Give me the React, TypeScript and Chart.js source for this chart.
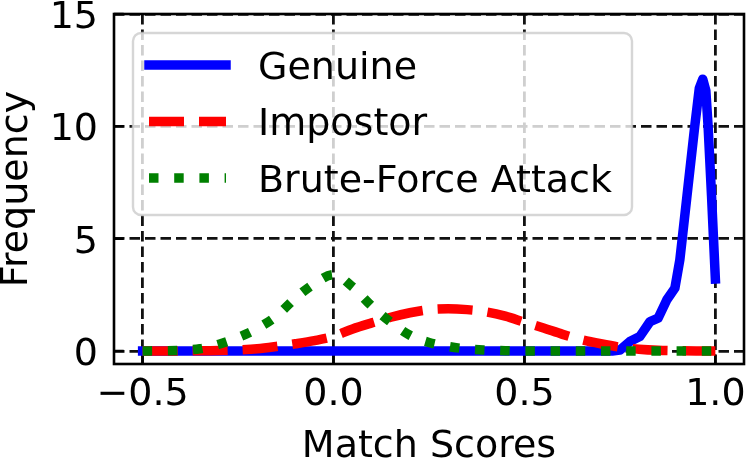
import React, { useEffect, useRef } from "react";
import { Chart, registerables } from "chart.js";

Chart.register(...registerables);

// ---- data ----
const seriesNames = ["Genuine", "Impostor", "Brute-Force Attack"];
const xTicks = [-0.5, 0, 0.5, 1.0];
const xTickLabels = ["\u22120.5", "0.0", "0.5", "1.0"];
const yTicks = [0, 5, 10, 15];
const yTickLabels = ["0", "5", "10", "15"];
const xTitle = "Match Scores";
const yTitle = "Frequency";

const genuineX = [-0.5, 0.73, 0.75, 0.776, 0.802, 0.829, 0.85, 0.873, 0.894, 0.907, 0.915, 0.925, 0.946, 0.958, 0.967, 0.975, 0.981, 0.99, 1.0];
const genuineY = [0, 0, 0.04, 0.42, 0.64, 1.31, 1.46, 2.28, 2.8, 4.06, 5.27, 6.8, 10.0, 11.7, 12.1, 11.6, 10.0, 6.9, 3.2];

const gridX = [-0.5, -0.45, -0.4, -0.35, -0.3, -0.25, -0.2, -0.15, -0.1, -0.05, 0, 0.05, 0.1, 0.15, 0.2, 0.25, 0.3, 0.35, 0.4, 0.45, 0.5, 0.55, 0.6, 0.65, 0.7, 0.75, 0.8, 0.85, 0.9, 0.95, 1.0];
const impostorY = [0, 0, 0, 0.01, 0.02, 0.05, 0.1, 0.2, 0.32, 0.46, 0.65, 0.98, 1.25, 1.5, 1.7, 1.84, 1.88, 1.84, 1.74, 1.55, 1.28, 1.02, 0.74, 0.5, 0.32, 0.17, 0.08, 0.03, 0.01, 0, 0];
const bruteY = [0, 0.01, 0.03, 0.1, 0.3, 0.6, 1.0, 1.55, 2.35, 3.0, 3.4, 2.85, 2.0, 1.28, 0.7, 0.38, 0.2, 0.09, 0.04, 0.01, 0, 0, 0, 0, 0, 0, 0, 0, 0, 0, 0];

// ---- styles ----
const FONT = "'DejaVu Sans', sans-serif";
const FS = 38;
const LW = 9.5;
const colors = ["#0000ff", "#ff0000", "#008000"];
const dashes = [[], [35, 15], [9.5, 15.7]];
const caps: CanvasLineCap[] = ["square", "butt", "butt"];

const toPts = (xs: number[], ys: number[]) => xs.map((x, i) => ({ x, y: ys[i] }));

const tickPlugin = {
  id: "mplTicks",
  beforeDatasetsDraw(chart: any) {
    const { ctx, chartArea: a, scales } = chart;
    ctx.save();
    ctx.strokeStyle = "#000";
    ctx.lineWidth = 2.5;
    ctx.setLineDash([]);
    ctx.beginPath();
    for (const v of xTicks) {
      const px = scales.x.getPixelForValue(v);
      ctx.moveTo(px, a.bottom);
      ctx.lineTo(px, a.bottom - 9.7);
    }
    for (const v of yTicks) {
      const py = scales.y.getPixelForValue(v);
      ctx.moveTo(a.left, py);
      ctx.lineTo(a.left + 9.7, py);
    }
    ctx.stroke();
    ctx.restore();
  },
};

const framePlugin = {
  id: "mplFrame",
  afterDatasetsDraw(chart: any) {
    const { ctx, chartArea: a } = chart;
    ctx.save();
    ctx.setLineDash([]);
    ctx.strokeStyle = "#000";
    ctx.lineWidth = 2.6;
    ctx.strokeRect(a.left, a.top, a.right - a.left, a.bottom - a.top);

    // legend box
    const L = 133, T = 33, R = 632, B = 215, r = 8;
    ctx.beginPath();
    ctx.moveTo(L + r, T);
    ctx.arcTo(R, T, R, B, r);
    ctx.arcTo(R, B, L, B, r);
    ctx.arcTo(L, B, L, T, r);
    ctx.arcTo(L, T, R, T, r);
    ctx.closePath();
    ctx.fillStyle = "rgba(255,255,255,0.8)";
    ctx.fill();
    ctx.strokeStyle = "rgba(204,204,204,0.8)";
    ctx.lineWidth = 2.4;
    ctx.stroke();

    for (let i = 0; i < seriesNames.length; i++) {
      const y = 65 + i * 56.5;
      ctx.beginPath();
      ctx.setLineDash(dashes[i]);
      ctx.lineCap = caps[i];
      ctx.strokeStyle = colors[i];
      ctx.lineWidth = LW;
      ctx.moveTo(149, y);
      ctx.lineTo(226, y);
      ctx.stroke();
      ctx.setLineDash([]);
      ctx.fillStyle = "#000";
      ctx.font = `${FS}px ${FONT}`;
      ctx.textAlign = "left";
      ctx.textBaseline = "alphabetic";
      ctx.fillText(seriesNames[i], 258, y + 13.5);
    }
    ctx.restore();
  },
};

export default function App() {
  const ref = useRef<HTMLCanvasElement | null>(null);

  useEffect(() => {
    if (!ref.current) return;
    Chart.defaults.font.family = FONT;
    const data = [toPts(genuineX, genuineY), toPts(gridX, impostorY), toPts(gridX, bruteY)];
    const chart = new Chart(ref.current, {
      type: "line",
      data: {
        datasets: seriesNames.map((name, i) => ({
          label: name,
          data: data[i],
          borderColor: colors[i],
          backgroundColor: colors[i],
          borderWidth: LW,
          borderDash: dashes[i],
          borderCapStyle: caps[i],
          borderJoinStyle: "round",
          pointRadius: 0,
          fill: false,
          tension: 0,
          cubicInterpolationMode: i === 0 ? "default" : "monotone",
          order: 2 - i,
        })),
      },
      options: {
        responsive: false,
        animation: false,
        parsing: true,
        layout: { padding: { left: 0, top: 14, right: 2, bottom: 0 } },
        plugins: {
          legend: { display: false },
          tooltip: { enabled: false },
        },
        scales: {
          x: {
            type: "linear",
            min: -0.575,
            max: 1.075,
            afterBuildTicks: (s: any) => {
              s.ticks = xTicks.map((v) => ({ value: v }));
            },
            afterFit: (s: any) => {
              s.height = 98;
              s.paddingLeft = 0;
              s.paddingRight = 0;
            },
            grid: { display: true, drawTicks: false, color: "#111", lineWidth: 2.8 },
            border: { display: false, dash: [10.5, 5] },
            ticks: {
              autoSkip: false,
              maxRotation: 0,
              minRotation: 0,
              padding: 8,
              color: "#000",
              font: { size: FS, family: FONT },
              callback: (_v: any, i: number) => xTickLabels[i],
            },
            title: {
              display: true,
              text: xTitle,
              color: "#000",
              font: { size: FS, family: FONT, lineHeight: 0.8 },
              padding: { top: 0, bottom: 0 },
            },
          },
          y: {
            type: "linear",
            min: -0.58,
            max: 15,
            afterBuildTicks: (s: any) => {
              s.ticks = yTicks.map((v) => ({ value: v }));
            },
            afterFit: (s: any) => {
              s.width = 114;
              s.paddingTop = 0;
              s.paddingBottom = 0;
            },
            grid: { display: true, drawTicks: false, color: "#111", lineWidth: 2.8 },
            border: { display: false, dash: [10.5, 5] },
            ticks: {
              autoSkip: false,
              padding: 16,
              labelOffset: 4,
              color: "#000",
              font: { size: FS, family: FONT },
              callback: (_v: any, i: number) => yTickLabels[i],
            },
            title: {
              display: true,
              text: yTitle,
              color: "#000",
              font: { size: FS, family: FONT, lineHeight: 0.8 },
              padding: { top: 2, bottom: 0 },
            },
          },
        },
      },
      plugins: [tickPlugin, framePlugin],
    } as any);
    return () => chart.destroy();
  }, []);

  return (
    <div style={{ position: "fixed", left: 0, top: 0, width: 746, height: 462, background: "#fff" }}>
      <canvas ref={ref} width={746} height={462} style={{ display: "block" }} />
    </div>
  );
}
